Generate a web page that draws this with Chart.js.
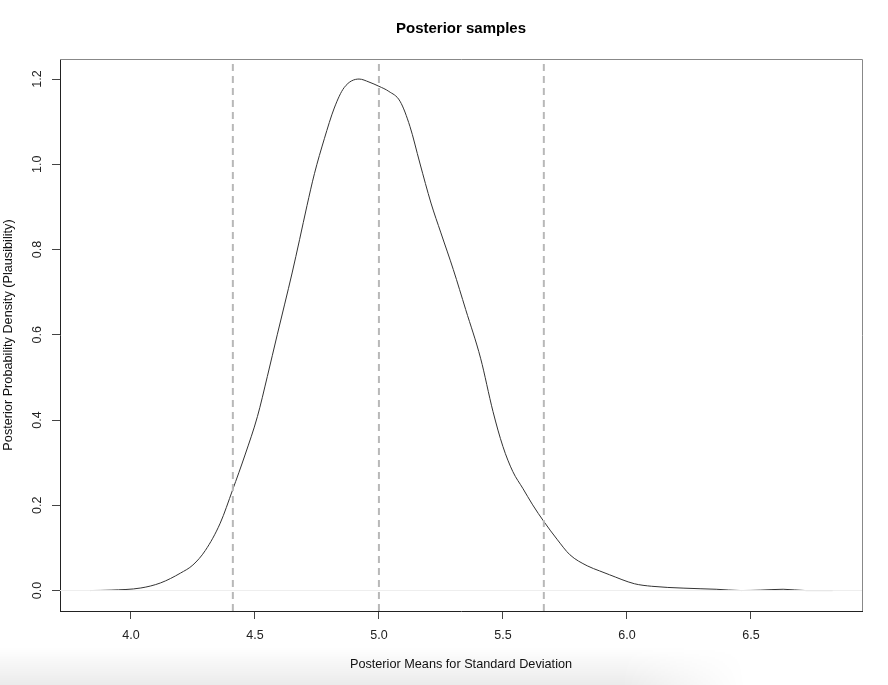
<!DOCTYPE html>
<html>
<head>
<meta charset="utf-8">
<script src="https://cdn.jsdelivr.net/npm/chart.js@4.4.1/dist/chart.umd.min.js"></script>
<style>
  html, body { margin: 0; padding: 0; background: #fff; }
  #wrap { position: relative; width: 888px; height: 685px; }
  #shade {
    position: absolute; left: 0; bottom: 0; width: 888px; height: 38px;
    background: linear-gradient(to bottom, rgba(0,0,0,0), rgba(0,0,0,0.08));
    -webkit-mask-image: linear-gradient(to right, #000 70%, transparent 84%);
    mask-image: linear-gradient(to right, #000 70%, transparent 84%);
  }
  canvas { position: absolute; left: 0; top: 0; }
</style>
</head>
<body>
<div id="wrap">
  <div id="shade"></div>
  <canvas id="density-chart" width="888" height="685"></canvas>
</div>
<script>
// density curve
var densityX = [3.835, 3.92, 4.04, 4.12, 4.20, 4.25, 4.30, 4.36, 4.41, 4.46, 4.51, 4.55, 4.59, 4.62, 4.65, 4.68, 4.71, 4.74, 4.78, 4.82, 4.86, 4.92, 4.96, 5.00, 5.04, 5.085, 5.125, 5.165, 5.21, 5.25, 5.30, 5.35, 5.41, 5.46, 5.50, 5.54, 5.58, 5.62, 5.665, 5.72, 5.77, 5.84, 5.89, 5.93, 6.03, 6.10, 6.23, 6.36, 6.46, 6.54, 6.63, 6.72, 6.83];
var densityY = [0.000, 0.001, 0.006, 0.018, 0.041, 0.060, 0.094, 0.158, 0.236, 0.318, 0.408, 0.502, 0.600, 0.672, 0.745, 0.823, 0.903, 0.978, 1.060, 1.132, 1.180, 1.200, 1.193, 1.183, 1.171, 1.148, 1.089, 1.003, 0.909, 0.839, 0.753, 0.659, 0.545, 0.420, 0.338, 0.279, 0.240, 0.201, 0.162, 0.119, 0.084, 0.058, 0.046, 0.037, 0.016, 0.010, 0.0056, 0.003, 0.000, 0.001, 0.003, 0.000, 0.000];

// dashed lines (lower bound, mean, upper bound)
var intervalX = [4.411, 5.0, 5.665];

var xTicks = [4.0, 4.5, 5.0, 5.5, 6.0, 6.5];
var yTicks = [0.0, 0.2, 0.4, 0.6, 0.8, 1.0, 1.2];
var xMin = 3.714, xMax = 6.948;
var yMin = -0.048, yMax = 1.247;

var fontFam = "'Liberation Sans', Arial, Helvetica, sans-serif";

var curve = densityX.map(function (x, i) { return {x: x, y: densityY[i]}; });

var datasets = [{
  data: [{x: xMin, y: 0}, {x: xMax, y: 0}],
  borderColor: '#eeeeee',
  borderWidth: 1,
  pointRadius: 0
}];
intervalX.forEach(function (x) {
  datasets.push({
    data: [{x: x, y: yMin}, {x: x, y: yMax}],
    borderColor: '#b8b8b8',
    borderWidth: 2,
    borderDash: [7, 5],
    pointRadius: 0
  });
});
datasets.push({
  data: curve,
  borderColor: '#333333',
  borderWidth: 1,
  pointRadius: 0,
  cubicInterpolationMode: 'monotone'
});

// R style box + rotated y labels
var boxPlugin = {
  id: 'box',
  afterDraw: function (chart) {
    var ctx = chart.ctx, a = chart.chartArea;
    ctx.save();
    ctx.strokeStyle = '#888';
    ctx.lineWidth = 1;
    ctx.beginPath();
    ctx.moveTo(a.left, a.top + 0.5);
    ctx.lineTo(a.right + 0.5, a.top + 0.5);
    ctx.lineTo(a.right + 0.5, a.bottom);
    ctx.stroke();

    var y = chart.scales.y;
    ctx.fillStyle = '#222';
    ctx.font = '12.5px ' + fontFam;
    ctx.textAlign = 'center';
    ctx.textBaseline = 'middle';
    yTicks.forEach(function (v) {
      ctx.save();
      ctx.translate(38, y.getPixelForValue(v));
      ctx.rotate(-Math.PI / 2);
      ctx.fillText(v.toFixed(1), 0, 0);
      ctx.restore();
    });
    ctx.restore();
  }
};

var ctx = document.getElementById('density-chart').getContext('2d');
var chart = new Chart(ctx, {
  type: 'line',
  data: { datasets: datasets },
  plugins: [boxPlugin],
  options: {
    responsive: false,
    animation: false,
    layout: { padding: { left: 0, right: 26, top: 0, bottom: 0 } },
    plugins: {
      legend: { display: false },
      tooltip: { enabled: false },
      title: {
        display: true,
        fullSize: false,
        text: 'Posterior samples',
        color: '#000',
        font: { family: fontFam, size: 15, weight: 'bold' },
        padding: { top: 20, bottom: 21 }
      }
    },
    scales: {
      x: {
        type: 'linear',
        min: xMin,
        max: xMax,
        afterBuildTicks: function (s) { s.ticks = xTicks.map(function (v) { return {value: v}; }); },
        afterFit: function (s) { s.height = 74; },
        border: { color: '#222', width: 1 },
        grid: { drawOnChartArea: false, drawTicks: true, tickLength: 8, color: '#444' },
        ticks: {
          color: '#222',
          padding: 9,
          maxRotation: 0,
          font: { family: fontFam, size: 12.5 },
          callback: function (v) { return v.toFixed(1); }
        },
        title: {
          display: true,
          text: 'Posterior Means for Standard Deviation',
          color: '#111',
          font: { family: fontFam, size: 12.7 },
          padding: { top: 0, bottom: 12.5 }
        }
      },
      y: {
        type: 'linear',
        min: yMin,
        max: yMax,
        afterBuildTicks: function (s) { s.ticks = yTicks.map(function (v) { return {value: v}; }); },
        afterFit: function (s) { s.width = 60; },
        border: { color: '#222', width: 1 },
        grid: { drawOnChartArea: false, drawTicks: true, tickLength: 8, color: '#444' },
        ticks: { display: false },
        title: {
          display: true,
          text: 'Posterior Probability Density (Plausibility)',
          color: '#111',
          font: { family: fontFam, size: 12.7 },
          padding: { top: 1, bottom: 0 }
        }
      }
    }
  }
});
</script>
</body>
</html>
